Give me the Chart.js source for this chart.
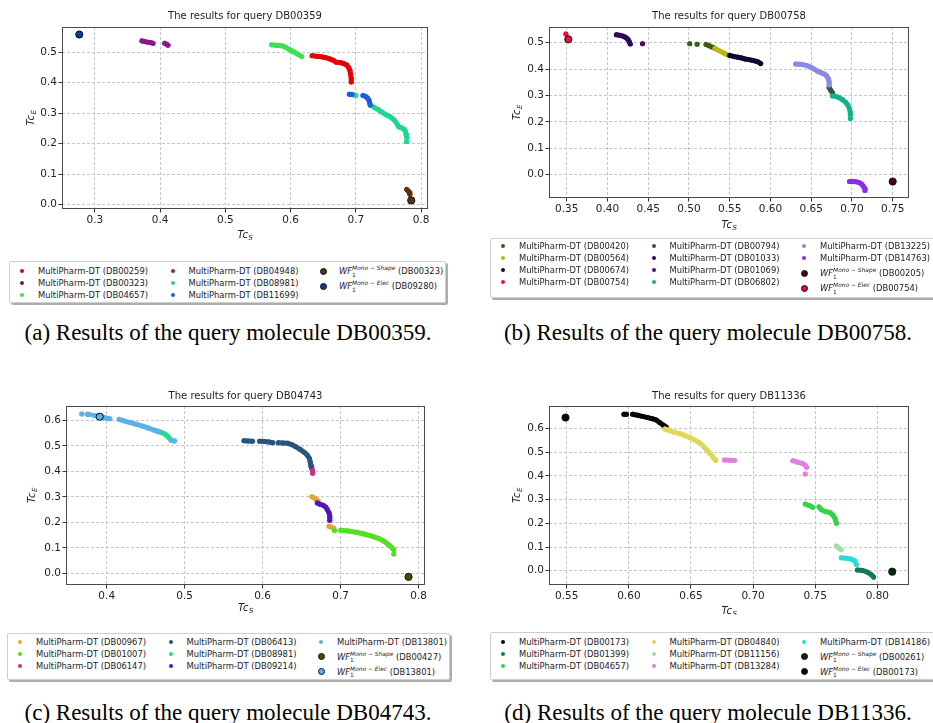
<!DOCTYPE html>
<html>
<head>
<meta charset="utf-8">
<title>MultiPharm-DT query results</title>
<script src="https://cdn.jsdelivr.net/npm/chart.js@4.4.1/dist/chart.umd.min.js"></script>
<style>
  body { margin: 0; width: 933px; height: 723px; position: relative; overflow: hidden; background: #fff; font-family: "DejaVu Sans", sans-serif; }
  canvas { position: absolute; }
  .legend { position: absolute; box-sizing: border-box; background: #fff; border: 1px solid #cfcfcf; border-radius: 2px; box-shadow: 2px 2px 0 #adadad; font-size: 8.4px; color: #222; }
  .item { position: absolute; white-space: nowrap; height: 12px; line-height: 12px; }
  .dot { position: absolute; border-radius: 50%; box-sizing: border-box; }
  .ms { position: relative; display: inline-block; font-style: italic; }
  .ms .sp { position: relative; top: -4px; font-size: 5.9px; line-height: 1; }
  .ms .sb { position: absolute; left: 0; top: 7.5px; font-size: 5.9px; line-height: 5.9px; font-style: normal; }
  .caption { position: absolute; width: 466px; text-align: center; font-family: "Liberation Serif", serif; font-size: 23px; line-height: 23px; color: #000; white-space: nowrap; }
</style>
</head>
<body>
<script>
'use strict';

// ---------- (a) query DB00359 ----------
const aXTicks = [0.3, 0.4, 0.5, 0.6, 0.7, 0.8];
const aYTicks = [0.0, 0.1, 0.2, 0.3, 0.4, 0.5];
const aNames = ['DB00259', 'DB00323', 'DB04657', 'DB04948', 'DB08981', 'DB11699'];
const a00259 = [[0.633,0.488],[0.640,0.487],[0.647,0.485],[0.654,0.482],[0.660,0.478],[0.666,0.473],[0.670,0.467],[0.676,0.466],[0.681,0.463],[0.686,0.458],[0.689,0.450],[0.691,0.440],[0.692,0.428],[0.693,0.415],[0.693,0.402]];
const a00323 = [[0.778,0.050],[0.780,0.046],[0.782,0.040],[0.783,0.034]];
const a04657 = [[0.571,0.524],[0.577,0.523],[0.583,0.522],[0.588,0.520],[0.593,0.515],[0.598,0.509],[0.603,0.503],[0.608,0.497],[0.612,0.492],[0.617,0.486]];
const a04948 = [[0.372,0.537],[0.376,0.535],[0.381,0.533],[0.385,0.532],[0.389,0.529], null, [0.407,0.529],[0.410,0.526],[0.412,0.523]];
const a08981 = [[0.697,0.360],[0.700,0.358], null, [0.723,0.326],[0.729,0.318],[0.735,0.311],[0.741,0.302],[0.747,0.294],[0.752,0.289],[0.757,0.281],[0.761,0.272],[0.764,0.262],[0.766,0.255],[0.770,0.252],[0.774,0.247],[0.776,0.240],[0.777,0.230],[0.778,0.220], null, [0.778,0.207]];
const a11699 = [[0.690,0.362],[0.694,0.361], null, [0.711,0.358],[0.715,0.355],[0.718,0.350],[0.720,0.343],[0.721,0.336],[0.722,0.327]];
const aShape = [[0.785, 0.014]];   // WF Mono-Shape (DB00323)
const aElec = [[0.276, 0.558]];    // WF Mono-Elec (DB09280)

// ---------- (b) query DB00758 ----------
const bXTicks = [0.35, 0.40, 0.45, 0.50, 0.55, 0.60, 0.65, 0.70, 0.75];
const bYTicks = [0.0, 0.1, 0.2, 0.3, 0.4, 0.5];
const bNames = ['DB00420', 'DB00564', 'DB00674', 'DB00754', 'DB00794', 'DB01033', 'DB01069', 'DB06802', 'DB13225', 'DB14763'];
const b00420 = [[0.501,0.496], null, [0.510,0.494], null, [0.521,0.493],[0.525,0.488],[0.529,0.483],[0.532,0.478]];
const b00564 = [[0.532,0.478],[0.537,0.470],[0.541,0.464],[0.545,0.457],[0.550,0.451]];
const b00674 = [[0.550,0.452],[0.555,0.448],[0.560,0.445],[0.565,0.442],[0.569,0.438],[0.573,0.436],[0.577,0.434],[0.581,0.431],[0.585,0.427],[0.588,0.421]];
const b00754 = [[0.349, 0.533]];
const b00794 = [[0.672,0.330],[0.674,0.320],[0.676,0.310]];
const b01033 = [[0.411,0.530],[0.415,0.528],[0.419,0.525],[0.422,0.521],[0.424,0.516],[0.426,0.509],[0.427,0.502],[0.428,0.495]];
const b01069 = [[0.443, 0.496]];
const b06802 = [[0.676,0.298],[0.680,0.297],[0.684,0.292],[0.688,0.285],[0.692,0.275],[0.695,0.263],[0.697,0.250],[0.698,0.236],[0.698,0.228], null, [0.698,0.213]];
const b13225 = [[0.631,0.419],[0.636,0.418],[0.641,0.416],[0.646,0.412],[0.650,0.406],[0.654,0.399],[0.658,0.392],[0.662,0.386],[0.666,0.381],[0.669,0.374],[0.671,0.364],[0.672,0.352],[0.672,0.340]];
const b14763 = [[0.697,-0.026],[0.701,-0.026],[0.705,-0.027],[0.709,-0.030],[0.712,-0.036],[0.714,-0.044],[0.716,-0.053],[0.716,-0.060]];
const bShape = [[0.750, -0.026]];  // WF Mono-Shape (DB00205)
const bElec = [[0.352, 0.513]];    // WF Mono-Elec (DB00754)

// ---------- (c) query DB04743 ----------
const cXTicks = [0.4, 0.5, 0.6, 0.7, 0.8];
const cYTicks = [0.0, 0.1, 0.2, 0.3, 0.4, 0.5, 0.6];
const cNames = ['DB00967', 'DB01007', 'DB06147', 'DB06413', 'DB08981', 'DB09214', 'DB13801'];
const c00967 = [[0.663,0.300],[0.666,0.295],[0.669,0.289],[0.671,0.283], null, [0.685,0.184],[0.688,0.181],[0.691,0.177]];
const c01007 = [[0.692,0.168], null, [0.700,0.169],[0.710,0.166],[0.720,0.161],[0.730,0.154],[0.740,0.146],[0.748,0.137],[0.755,0.127],[0.761,0.113],[0.765,0.102],[0.768,0.092], null, [0.768,0.076]];
const c06147 = [[0.662,0.420],[0.663,0.410],[0.664,0.400],[0.664,0.392]];
const c06413 = [[0.576,0.520],[0.581,0.519],[0.587,0.518], null, [0.596,0.518],[0.602,0.517],[0.608,0.515],[0.613,0.512], null, [0.620,0.512],[0.626,0.511],[0.632,0.510],[0.637,0.505],[0.642,0.497],[0.648,0.486],[0.653,0.475],[0.657,0.464],[0.660,0.450],[0.661,0.435],[0.662,0.420]];
const c08981 = [[0.465,0.557],[0.470,0.552],[0.474,0.547],[0.477,0.540],[0.480,0.531],[0.482,0.524]];
const c09214 = [[0.670,0.276],[0.674,0.270],[0.678,0.266],[0.681,0.259],[0.683,0.249],[0.685,0.237],[0.686,0.224],[0.686,0.208]];
const c13801 = [[0.368,0.625], null, [0.375,0.624],[0.378,0.623], null, [0.384,0.619],[0.389,0.616],[0.394,0.613],[0.399,0.609],[0.404,0.606], null, [0.416,0.604],[0.422,0.598],[0.430,0.591],[0.438,0.584],[0.446,0.577],[0.454,0.569],[0.461,0.561],[0.467,0.556], null, [0.483,0.521],[0.487,0.519]];
const cShape = [[0.787, -0.014]];  // WF Mono-Shape (DB00427)
const cElec = [[0.391, 0.614]];    // WF Mono-Elec (DB13801)

// ---------- (d) query DB11336 ----------
const dXTicks = [0.55, 0.60, 0.65, 0.70, 0.75, 0.80];
const dYTicks = [0.0, 0.1, 0.2, 0.3, 0.4, 0.5, 0.6];
const dNames = ['DB00173', 'DB01399', 'DB04657', 'DB04840', 'DB11156', 'DB13284', 'DB14186'];
const d00173 = [[0.596,0.660],[0.598,0.660], null, [0.603,0.660],[0.607,0.656],[0.611,0.651],[0.615,0.646],[0.619,0.641],[0.622,0.636],[0.625,0.624],[0.628,0.613],[0.630,0.606]];
const d01399 = [[0.784,0.003],[0.788,0.001],[0.792,-0.006],[0.795,-0.016],[0.797,-0.027]];
const d04657 = [[0.742,0.281],[0.745,0.275],[0.748,0.268], null, [0.753,0.269],[0.755,0.257],[0.758,0.250],[0.762,0.245],[0.764,0.236],[0.766,0.220],[0.767,0.200]];
const d04840 = [[0.629,0.598],[0.633,0.591],[0.637,0.584],[0.641,0.578],[0.645,0.571],[0.649,0.562],[0.653,0.551],[0.657,0.539],[0.660,0.524],[0.663,0.508],[0.666,0.491],[0.668,0.477],[0.670,0.465]];
const d11156 = [[0.767,0.104],[0.769,0.096],[0.771,0.088]];
const d13284 = [[0.677,0.467],[0.681,0.466],[0.685,0.465], null, [0.732,0.464],[0.736,0.458],[0.740,0.452],[0.742,0.445],[0.743,0.436], null, [0.742,0.408]];
const d14186 = [[0.771,0.055],[0.775,0.053],[0.779,0.049],[0.782,0.041],[0.783,0.026]];
const dShape = [[0.812, -0.004]];  // WF Mono-Shape (DB00261)
const dElec = [[0.549, 0.646]];    // WF Mono-Elec (DB00173)

const panels = [
    {
        query: 'DB00359', caption: '(a) Results of the query molecule DB00359.',
        canvas: { left: 0, top: 0, w: 466, h: 250 }, area: { left: 62, right: 428, top: 27, bottom: 209 },
        x: { min: 0.2495, max: 0.8107, ticks: aXTicks, dec: 1 }, y: { min: -0.0141, max: 0.5826, ticks: aYTicks, dec: 1 },
        xTitleOff: 25, yTitleX: 30,
        names: aNames, series: [a00259, a00323, a04657, a04948, a08981, a11699],
        colors: ['#e60000', '#5c3310', '#3ee052', '#8e168e', '#1fd88f', '#1a5fe0'],
        shape: aShape, shapeRef: 'DB00323', shapeColor: '#5c3310',
        elec: aElec, elecRef: 'DB09280', elecColor: '#0a3aa8',
        legend: { left: 9, top: 261, width: 437, height: 42, firstRow: 9 },
        captionX: 228, captionBase: 340
    },
    {
        query: 'DB00758', caption: '(b) Results of the query molecule DB00758.',
        canvas: { left: 466, top: 0, w: 467, h: 250 }, area: { left: 83, right: 443, top: 27, bottom: 198 },
        x: { min: 0.3283, max: 0.770, ticks: bXTicks, dec: 2 }, y: { min: -0.0883, max: 0.5595, ticks: bYTicks, dec: 1 },
        xTitleOff: 26, yTitleX: 50,
        names: bNames, series: [b00420, b00564, b00674, b00754, b00794, b01033, b01069, b06802, b13225, b14763],
        colors: ['#3d5c0c', '#b8b814', '#0c0c30', '#e8103c', '#2f5c30', '#2c0a5a', '#5a0a5a', '#14b48a', '#8a8ae6', '#8a2cf0'],
        shape: bShape, shapeRef: 'DB00205', shapeColor: '#4d0505',
        elec: bElec, elecRef: 'DB00754', elecColor: '#e0103c',
        legend: { left: 490, top: 238, width: 445, height: 60, firstRow: 7 },
        captionX: 708, captionBase: 340
    },
    {
        query: 'DB04743', caption: '(c) Results of the query molecule DB04743.',
        canvas: { left: 0, top: 380, w: 466, h: 235 }, area: { left: 66, right: 425, top: 26, bottom: 205 },
        x: { min: 0.3478, max: 0.8081, ticks: cXTicks, dec: 1 }, y: { min: -0.0459, max: 0.656, ticks: cYTicks, dec: 1 },
        xTitleOff: 22, yTitleX: 31,
        names: cNames, series: [c00967, c01007, c06147, c06413, c08981, c09214, c13801],
        colors: ['#e6a832', '#52e024', '#c8308c', '#28557d', '#22e08e', '#5414c0', '#5ab2e6'],
        shape: cShape, shapeRef: 'DB00427', shapeColor: '#4a4a05',
        elec: cElec, elecRef: 'DB13801', elecColor: '#5ab2e6',
        legend: { left: 7, top: 633, width: 443, height: 47, firstRow: 7.7 },
        captionX: 228, captionBase: 720
    },
    {
        query: 'DB11336', caption: '(d) Results of the query molecule DB11336.',
        canvas: { left: 466, top: 380, w: 467, h: 235 }, area: { left: 83, right: 443, top: 26, bottom: 205 },
        x: { min: 0.5357, max: 0.8255, ticks: dXTicks, dec: 2 }, y: { min: -0.0603, max: 0.6949, ticks: dYTicks, dec: 1 },
        xTitleOff: 25, yTitleX: 50,
        names: dNames, series: [d00173, d01399, d04657, d04840, d11156, d13284, d14186],
        colors: ['#050505', '#107a55', '#33d44a', '#e0d65a', '#a8dca8', '#e080e0', '#28dcdc'],
        shape: dShape, shapeRef: 'DB00261', shapeColor: '#082808',
        elec: dElec, elecRef: 'DB00173', elecColor: '#050505',
        legend: { left: 490, top: 632, width: 445, height: 48, firstRow: 8.7 },
        captionX: 708, captionBase: 720
    }
];

const TEXT = '#222';

function toPoints(list) {
    return list.map(q => q ? { x: q[0], y: q[1] } : { x: null, y: null });
}

// italic "Tc" with a subscript, like matplotlib mathtext
function drawMathLabel(ctx, main, sub, cx, cy, rot) {
    ctx.save();
    ctx.translate(cx, cy);
    ctx.rotate(rot);
    ctx.fillStyle = TEXT;
    ctx.textBaseline = 'alphabetic';
    ctx.font = 'italic 10px "DejaVu Sans"';
    const w1 = ctx.measureText(main).width;
    ctx.font = 'italic 7px "DejaVu Sans"';
    const w2 = ctx.measureText(sub).width;
    const x0 = -(w1 + w2) / 2;
    ctx.font = 'italic 10px "DejaVu Sans"';
    ctx.fillText(main, x0, 3.5);
    ctx.font = 'italic 7px "DejaVu Sans"';
    ctx.fillText(sub, x0 + w1 + 0.5, 6);
    ctx.restore();
}

function framePlugin(p) {
    return {
        id: 'frameAndTitles',
        afterDraw(chart) {
            const { ctx, chartArea: a } = chart;
            ctx.save();
            ctx.strokeStyle = '#4a4a4a';
            ctx.lineWidth = 1;
            ctx.strokeRect(Math.round(a.left) + 0.5, Math.round(a.top) + 0.5, Math.round(a.width) - 1, Math.round(a.height) - 1);
            ctx.restore();
            drawMathLabel(ctx, 'Tc', 'S', (a.left + a.right) / 2, a.bottom + p.xTitleOff, 0);
            drawMathLabel(ctx, 'Tc', 'E', p.yTitleX, (a.top + a.bottom) / 2, -Math.PI / 2);
        }
    };
}

function axisOptions(ax, p, isX) {
    return {
        type: 'linear',
        bounds: 'data',
        min: ax.min,
        max: ax.max,
        afterBuildTicks: s => { s.ticks = ax.ticks.map(v => ({ value: v })); },
        afterFit: s => {
            if (isX) s.height = p.canvas.h - p.area.bottom;
            else s.width = p.area.left;
        },
        ticks: {
            autoSkip: false,
            maxRotation: 0,
            padding: 1.5,
            color: TEXT,
            font: { family: 'DejaVu Sans', size: 10.5 },
            callback: v => Number(v).toFixed(ax.dec)
        },
        grid: { color: '#c6c6c6', lineWidth: 1, drawTicks: true, tickLength: 3.5, tickColor: '#333', tickWidth: 1, tickBorderDash: [] },
        border: { display: false, dash: [3, 2] }
    };
}

function buildChart(p) {
    const canvas = document.createElement('canvas');
    canvas.width = p.canvas.w;
    canvas.height = p.canvas.h;
    canvas.style.left = p.canvas.left + 'px';
    canvas.style.top = p.canvas.top + 'px';
    document.body.appendChild(canvas);

    const datasets = p.series.map((list, i) => ({
        label: 'MultiPharm-DT (' + p.names[i] + ')',
        data: toPoints(list),
        showLine: true,
        spanGaps: false,
        borderColor: p.colors[i],
        backgroundColor: p.colors[i],
        borderWidth: 5,
        borderCapStyle: 'round',
        borderJoinStyle: 'round',
        pointRadius: 2.5,
        pointBorderWidth: 0,
        order: 100 - i
    }));
    [[p.shape, p.shapeColor, 'Mono-Shape'], [p.elec, p.elecColor, 'Mono-Elec']].forEach(([list, color, tag]) => {
        datasets.push({
            label: 'WF1 ' + tag,
            data: toPoints(list),
            showLine: false,
            backgroundColor: color,
            borderColor: '#111',
            pointRadius: 3.6,
            pointBorderWidth: 1,
            order: 0
        });
    });

    new Chart(canvas, {
        type: 'scatter',
        data: { datasets },
        options: {
            responsive: false,
            animation: false,
            devicePixelRatio: 1,
            layout: { padding: { left: 0, top: 0, bottom: 0, right: p.canvas.w - p.area.right } },
            plugins: {
                legend: { display: false },
                tooltip: { enabled: false },
                title: {
                    display: true,
                    fullSize: false,
                    text: 'The results for query ' + p.query,
                    color: TEXT,
                    font: { family: 'DejaVu Sans', size: 10, weight: 'normal' },
                    padding: { top: 10, bottom: p.area.top - 22 }
                }
            },
            scales: { x: axisOptions(p.x, p, true), y: axisOptions(p.y, p, false) }
        },
        plugins: [framePlugin(p)]
    });
}

function wfLabel(tag, ref) {
    return '<i>WF</i><span class="ms"><span class="sp">' + tag + '</span><span class="sb">1</span></span> (' + ref + ')';
}

// matplotlib style legend, 3 columns filled column by column
const legendCols = { dot: [12, 163, 313], text: [28, 178.5, 329] };

function buildLegend(p) {
    const box = document.createElement('div');
    box.className = 'legend';
    box.style.cssText = `left:${p.legend.left}px;top:${p.legend.top}px;width:${p.legend.width}px;height:${p.legend.height}px`;
    document.body.appendChild(box);

    const entries = p.names.map((n, i) => ({ html: 'MultiPharm-DT (' + n + ')', color: p.colors[i], wf: false }))
        .concat([
            { html: wfLabel('Mono − Shape', p.shapeRef), color: p.shapeColor, wf: true },
            { html: wfLabel('Mono − Elec', p.elecRef), color: p.elecColor, wf: true }
        ]);

    const base = Math.floor(entries.length / 3);
    const extra = entries.length % 3;
    let k = 0;
    for (let c = 0; c < 3; c++) {
        const rows = base + (c < extra ? 1 : 0);
        let y = p.legend.firstRow;
        let prevWf = false;
        for (let r = 0; r < rows; r++, k++) {
            const e = entries[k];
            if (r > 0) y += (e.wf || prevWf) ? 15 : 12;
            prevWf = e.wf;

            const d = e.wf ? 7 : 4.2;
            const dot = document.createElement('div');
            dot.className = 'dot';
            dot.style.cssText = `left:${legendCols.dot[c] - d / 2}px;top:${y - d / 2}px;width:${d}px;height:${d}px;background:${e.color};` +
                (e.wf ? 'border:1px solid #111;' : '');
            box.appendChild(dot);

            const item = document.createElement('div');
            item.className = 'item';
            item.style.left = legendCols.text[c] + 'px';
            item.style.top = (y - 6) + 'px';
            item.innerHTML = e.html;
            box.appendChild(item);
        }
    }
}

function buildCaption(p) {
    const cap = document.createElement('div');
    cap.className = 'caption';
    cap.style.left = (p.captionX - 233) + 'px';
    cap.style.top = (p.captionBase - 19.25) + 'px';
    cap.textContent = p.caption;
    document.body.appendChild(cap);
}

panels.forEach(p => {
    buildChart(p);
    buildLegend(p);
    buildCaption(p);
});
</script>
</body>
</html>
